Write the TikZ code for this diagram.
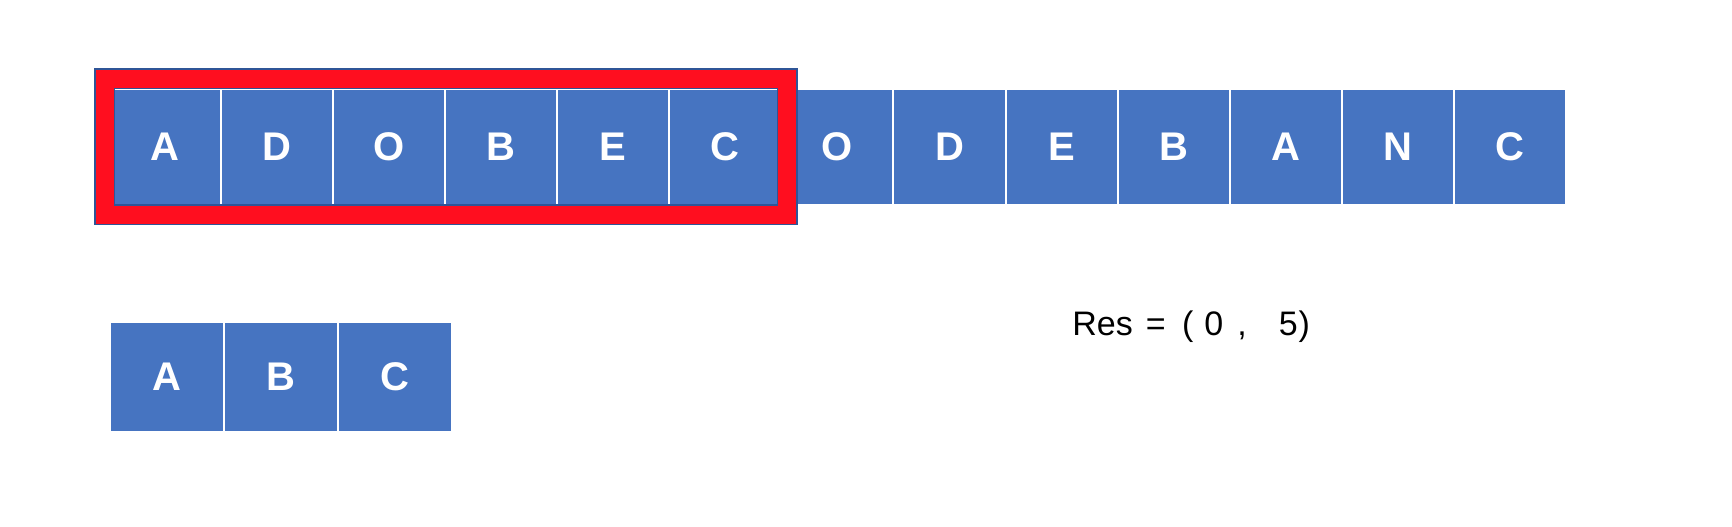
\documentclass[tikz,border=0pt]{standalone}
\usepackage{fontspec}
\setmainfont{Liberation Sans}
\definecolor{cellblue}{HTML}{4674C1}
\definecolor{framered}{HTML}{FF0E1F}
\definecolor{framedark}{HTML}{2F5597}
\begin{document}
\begin{tikzpicture}[x=0.5pt,y=-0.5pt,
  cell/.style={fill=cellblue, draw=white, line width=1pt, inner sep=0pt,
    anchor=north west, text=white, font=\fontsize{20}{24}\selectfont\bfseries},
  topcell/.style={cell, minimum width=56.05pt, minimum height=58pt},
  botcell/.style={cell, minimum width=56.9pt, minimum height=54.75pt},
  frameouter/.style={draw=framedark, line width=10.5pt},
  frameinner/.style={draw=framered, line width=9pt}]
\fill[white] (0,0) rectangle (1732,526);
\useasboundingbox (0,0) rectangle (1732,526);
\foreach \l [count=\i from 0] in {A,D,O,B,E,C,O,D,E,B,A,N,C}
  \node[topcell] (t\i) at ({107.7+112.1*\i},87.5) {\l};
\foreach \l [count=\i from 0] in {A,B,C}
  \node[botcell] (b\i) at ({109.4+113.8*\i},321) {\l};
\path[frameouter] (104.5,78.7) rectangle (787,214.6);
\path[frameinner] (104.5,78.7) rectangle (787,214.6);
\node[anchor=base west, inner sep=0pt, font=\fontsize{17}{20}\selectfont] (res) at (1072,335.7)
  {Res\hspace{6.5pt}=\hspace{8.2pt}(\hspace{5.5pt}0\hspace{7pt},\hspace{16pt}5\hspace{0.5pt})};
\end{tikzpicture}
\end{document}
